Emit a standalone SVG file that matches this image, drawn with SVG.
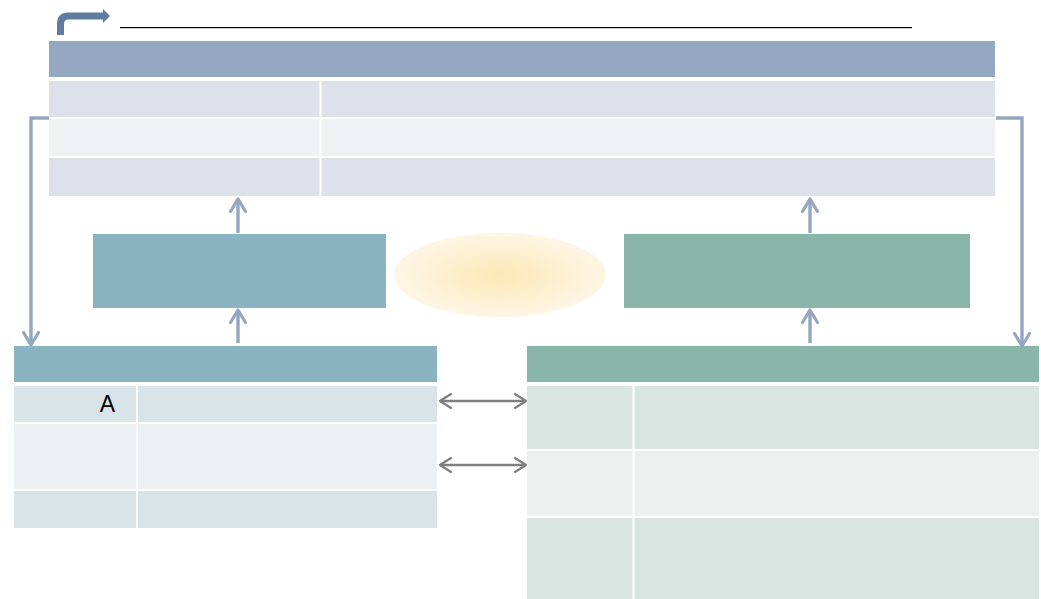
<svg xmlns="http://www.w3.org/2000/svg" width="1041" height="599" viewBox="0 0 1041 599">
<defs>
<radialGradient id="glow" cx="0.5" cy="0.5" r="0.5">
<stop offset="0" stop-color="#fde8b5"/>
<stop offset="1" stop-color="#fef6e6"/>
</radialGradient>
<marker id="up" viewBox="0 0 18 20" refX="15.5" refY="10" markerWidth="18" markerHeight="20" markerUnits="userSpaceOnUse" orient="auto-start-reverse">
<path d="M3 2.5 L15.5 10 L3 17.5" fill="none" stroke="#94a6c0" stroke-width="3.2" stroke-linecap="round" stroke-linejoin="round"/>
</marker>
<marker id="chev" viewBox="0 0 14 18" refX="13" refY="9" markerWidth="14" markerHeight="18" markerUnits="userSpaceOnUse" orient="auto-start-reverse">
<path d="M2 2 L13 9 L2 16" fill="none" stroke="#7f7f7f" stroke-width="2.2" stroke-linecap="round" stroke-linejoin="round"/>
</marker>
</defs>
<style>
.hdr{fill:#95a8c1}
.r1{fill:#dde1e9}
.r2{fill:#eff1f5}
.bh{fill:#8ab4c2}
.b1{fill:#d9e4e8}
.b2{fill:#ebf1f3}
.gh{fill:#8ab6a9}
.g1{fill:#d9e5e1}
.g2{fill:#ebf1ef}
.sep{stroke:#ffffff;stroke-width:2}
.conn{fill:none;stroke:#94a6c0;stroke-width:3.4}
.dbl{fill:none;stroke:#7f7f7f;stroke-width:2.4}
</style>
<rect width="1041" height="599" fill="#ffffff"/>
<g id="title">
<path d="M60.5 35 V24 Q60.5 16 68.5 16 H104" fill="none" stroke="#5f7ba0" stroke-width="7"/>
<path d="M103 9 L110 16 L103 23 Z" fill="#5f7ba0"/>
<line x1="120" y1="28.5" x2="912" y2="28.5" stroke="#d0d0d0" stroke-width="1"/>
<line x1="120" y1="27.5" x2="912" y2="27.5" stroke="#000000" stroke-width="1.2"/>
</g>
<g id="top-table">
<rect class="hdr" x="49" y="41" width="946" height="36"/>
<rect class="r1" x="49" y="81" width="946" height="36"/>
<rect class="r2" x="49" y="119" width="946" height="37"/>
<rect class="r1" x="49" y="158" width="946" height="38"/>
<line class="sep" x1="320.5" y1="81" x2="320.5" y2="196"/>
</g>
<g id="left-box">
<rect class="bh" x="93" y="234" width="293" height="74"/>
</g>
<g id="center-ellipse">
<ellipse cx="500" cy="275" rx="106" ry="42" fill="url(#glow)"/>
</g>
<g id="right-box">
<rect class="gh" x="624" y="234" width="346" height="74"/>
</g>
<g id="left-table">
<rect class="bh" x="14" y="346" width="423" height="36"/>
<rect class="b1" x="14" y="386" width="423" height="36"/>
<rect class="b2" x="14" y="424" width="423" height="65"/>
<rect class="b1" x="14" y="491" width="423" height="37"/>
<line class="sep" x1="137" y1="384" x2="137" y2="528"/>
<text x="107.5" y="412" font-family="Liberation Sans, Arial, sans-serif" font-size="23" text-anchor="middle" fill="#000000">A</text>
</g>
<g id="right-table">
<rect class="gh" x="527" y="346" width="512" height="36"/>
<rect class="g1" x="527" y="386" width="512" height="63"/>
<rect class="g2" x="527" y="451" width="512" height="65"/>
<rect class="g1" x="527" y="518" width="512" height="81"/>
<line class="sep" x1="633.5" y1="384" x2="633.5" y2="599"/>
</g>
<g id="connectors">
<path class="conn" d="M49 118 H31 V345" marker-end="url(#up)"/>
<path class="conn" d="M996 118 H1022 V346" marker-end="url(#up)"/>
<line class="conn" x1="238" y1="233" x2="238" y2="199" marker-end="url(#up)"/>
<line class="conn" x1="238" y1="343" x2="238" y2="310" marker-end="url(#up)"/>
<line class="conn" x1="810" y1="233" x2="810" y2="199" marker-end="url(#up)"/>
<line class="conn" x1="810" y1="343" x2="810" y2="310" marker-end="url(#up)"/>
<line class="dbl" x1="440" y1="401" x2="526" y2="401" marker-start="url(#chev)" marker-end="url(#chev)"/>
<line class="dbl" x1="440" y1="465" x2="526" y2="465" marker-start="url(#chev)" marker-end="url(#chev)"/>
</g>
</svg>
